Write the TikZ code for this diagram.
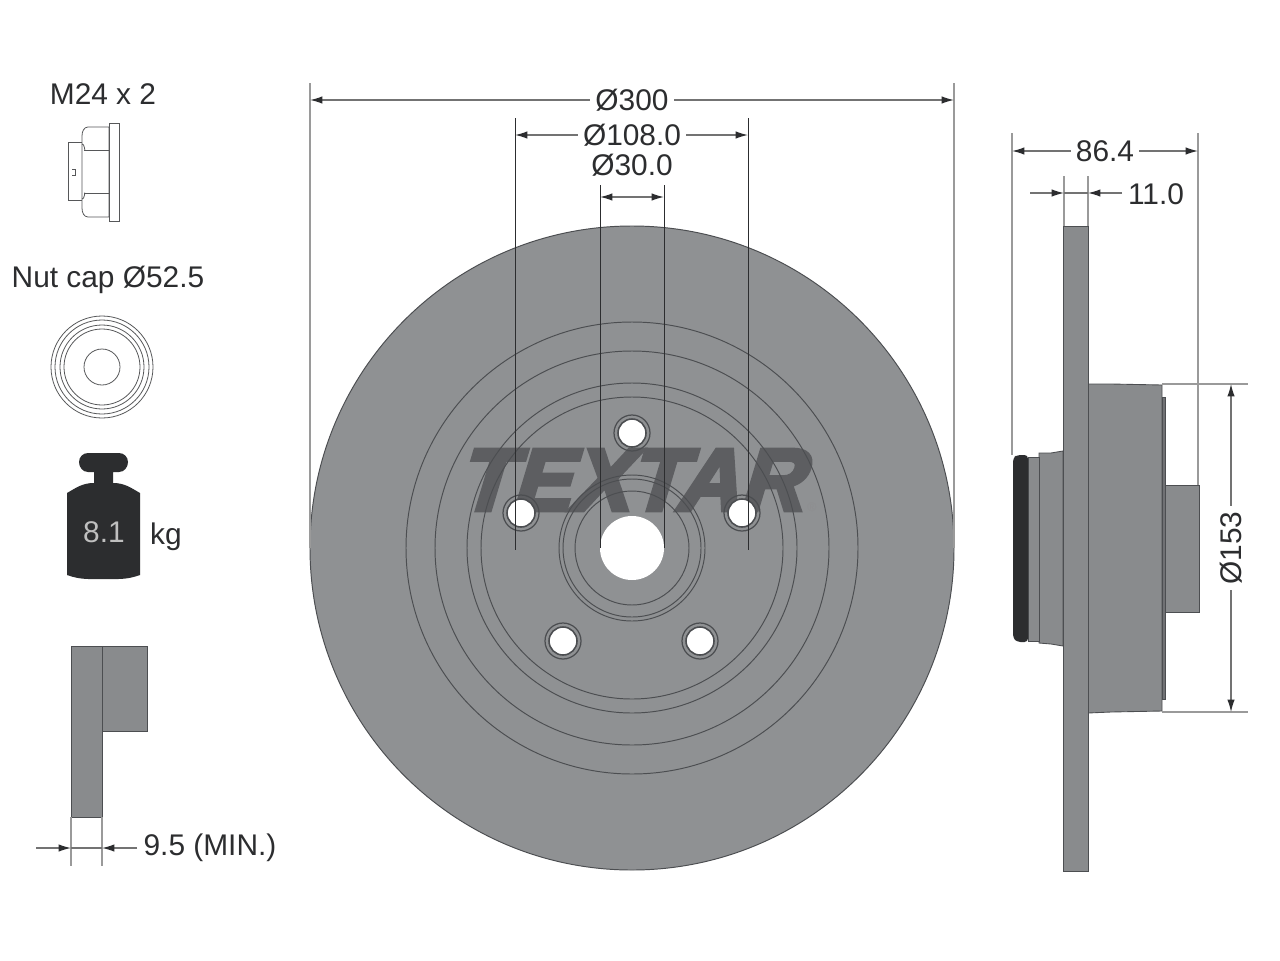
\documentclass[tikz,border=0pt]{standalone}
\usepackage{fontspec}
\setmainfont{Liberation Sans}
\usetikzlibrary{arrows.meta}
\font\logofont="Liberation Sans/B:embolden=5:slant=0.3" at 50pt
\definecolor{discgray}{HTML}{8F9193}
\definecolor{sidegray}{HTML}{898B8D}
\definecolor{edgegray}{HTML}{4C4E51}
\definecolor{inkgray}{HTML}{2C2D2F}
\definecolor{extgray}{HTML}{9A9A9A}
\definecolor{logogray}{HTML}{5D5E61}
\tikzset{
	dimtext/.style={font=\fontsize{17}{18}\selectfont,text=inkgray,inner sep=1pt},
	dimfill/.style={dimtext,fill=white,inner xsep=3pt,inner ysep=0pt},
	dimline/.style={draw=black!55,line width=0.7pt,-{Latex[length=7pt,width=4.2pt,inkgray]}},
	extline/.style={draw=extgray,line width=0.8pt},
	crossline/.style={draw=inkgray,line width=0.42pt},
	partline/.style={draw=edgegray,line width=0.55pt},
	sidepart/.style={fill=sidegray,draw=edgegray,line width=0.5pt},
	iconline/.style={draw=inkgray!80,line width=0.45pt,fill=white}
}
\begin{document}
\begin{tikzpicture}[x=0.02cm,y=-0.02cm]
	\fill[white] (0,0) rectangle (1280,960);

	% labels on the left
	\node[dimtext] (threadtext) at (103,94) {M24 x 2};
	\node[dimtext] (captext) at (108,280) {Nut cap Ø52.5};

	% draw nut
	\draw[iconline] (68,142) rectangle (82,200);
	\draw[iconline] (109,127) -- (88,127) to[out=180,in=90] (82,136) -- (82,208) to[out=-90,in=180] (88,217) -- (109,217) -- cycle;
	\draw[iconline] (84,150) -- (109,150);
	\draw[iconline] (84,193) -- (109,193);
	\draw[iconline,fill=none] (82,144) to[out=20,in=-90] (85,150);
	\draw[iconline,fill=none] (82,199) to[out=-20,in=90] (85,193);
	\draw[iconline] (109,123) rectangle (119,221);
	\draw[iconline,fill=none] (72,169) -- (75,169) -- (75,175) -- (72,175);

	% draw nut cap
	\foreach \r in {51,47,42,38,18}
	{
		\draw[iconline,fill=none] (102,367) circle (\r);
	}

	% draw weight
	\fill[inkgray] (79,462) to[out=90,in=180] (88,453) -- (119,453) to[out=0,in=90] (128,462) to[out=-90,in=0] (119,472) -- (113,472) -- (113,483)
		to[out=0,in=150] (140,493) -- (140,575) to[out=200,in=0] (104,579) to[out=180,in=-20] (67,575) -- (67,493) to[out=30,in=180] (94,483) -- (94,472) -- (88,472) to[out=180,in=-90] cycle;
	\node[font=\fontsize{17}{18}\selectfont,text=black!25] (weighttext) at (104,532) {8.1};
	\node[dimtext] (kgtext) at (166,537) {kg};

	% draw pad profile
	\draw[sidepart] (102,646) rectangle (147,731);
	\draw[sidepart] (71,646) rectangle (102,817);
	\coordinate (padl) at (71,817);
	\coordinate (padr) at (102,817);
	\draw[extline] (padl) -- (71,866);
	\draw[extline] (padr) -- (102,866);
	\coordinate (padla) at (36,848);
	\coordinate (padlb) at (71,848);
	\coordinate (padra) at (137,848);
	\coordinate (padrb) at (102,848);
	\draw[dimline] (padla) -- (padlb);
	\draw[dimline] (padra) -- (padrb);
	\draw[dimline,-] (padlb) -- (padrb);
	\node[dimtext] (padtext) at (210,848) {9.5 (MIN.)};

	% draw disc
	\fill[discgray] (632,548) circle (322);
	\draw[partline] (632,548) circle (322);

	% draw logo
	\node[text=logogray,font=\logofont,inner sep=0pt] (logo) at (629,480) {TEXTAR};
	\node[text=logogray!70,font=\fontsize{7}{8}\selectfont,inner sep=0pt] (logoreg) at (812,507) {®};

	\foreach \r in {226,197,165,151,73,69,57}
	{
		\draw[partline] (632,548) circle (\r);
	}

	% draw holes
	\fill[white] (632,548) circle (32);
	\foreach \x/\y in {632/433,521/513,742/513,563/641,700/641}
	{
		\draw[partline,line width=0.7pt] (\x,\y) circle (18);
		\draw[partline,line width=0.9pt,fill=white] (\x,\y) circle (14);
	}

	% draw disc dimensions
	\coordinate (d300l) at (310,100);
	\coordinate (d300r) at (954,100);
	\draw[extline] (310,83) -- (310,548);
	\draw[extline] (954,83) -- (954,548);
	\draw[dimline] (632,100) -- (d300l);
	\draw[dimline] (632,100) -- (d300r);
	\node[dimfill] (d300text) at (632,100) {Ø300};

	\coordinate (d108l) at (515,135);
	\coordinate (d108r) at (748,135);
	\draw[crossline] (515,118) -- (515,550);
	\draw[crossline] (748,118) -- (748,550);
	\draw[dimline] (632,135) -- (d108l);
	\draw[dimline] (632,135) -- (d108r);
	\node[dimfill] (d108text) at (632,135) {Ø108.0};

	\coordinate (d30l) at (600,197);
	\coordinate (d30r) at (664,197);
	\draw[crossline] (600,185) -- (600,548);
	\draw[crossline] (664,185) -- (664,548);
	\draw[dimline] (632,197) -- (d30l);
	\draw[dimline] (632,197) -- (d30r);
	\node[dimtext] (d30text) at (632,165) {Ø30.0};

	% draw side view
	\draw[sidepart] (1088,384) -- (1111,384) -- (1162,385) -- (1162,711) -- (1111,712) -- (1088,713) -- cycle;
	\draw[sidepart,fill=edgegray!80] (1162,397) rectangle (1165,699);
	\draw[sidepart] (1165,485) rectangle (1199,612);
	\draw[sidepart] (1039,453) -- (1051,453) -- (1063,451) -- (1063,646) -- (1051,644) -- (1039,643) -- cycle;
	\draw[sidepart] (1028,457) rectangle (1039,641);
	\fill[inkgray,rounded corners=2pt] (1013,458) -- (1017,455) -- (1028,455) -- (1028,642) -- (1017,642) -- (1013,638) -- cycle;
	\draw[sidepart] (1063.5,226) rectangle (1088.5,871);

	% draw side dimensions
	\coordinate (d86l) at (1012,151);
	\coordinate (d86r) at (1198,151);
	\draw[extline] (1012,133) -- (1012,455);
	\draw[extline] (1198,133) -- (1198,485);
	\draw[dimline] (1105,151) -- (d86l);
	\draw[dimline] (1105,151) -- (d86r);
	\node[dimfill] (d86text) at (1105,151) {86.4};

	\coordinate (d11la) at (1030,193);
	\coordinate (d11lb) at (1064,193);
	\coordinate (d11ra) at (1122,193);
	\coordinate (d11rb) at (1088,193);
	\draw[extline] (1064,176) -- (1064,226);
	\draw[extline] (1088,176) -- (1088,226);
	\draw[dimline] (d11la) -- (d11lb);
	\draw[dimline] (d11ra) -- (d11rb);
	\draw[dimline,-] (d11lb) -- (d11rb);
	\node[dimtext] (d11text) at (1156,194) {11.0};

	\coordinate (d153t) at (1231,384);
	\coordinate (d153b) at (1231,712);
	\draw[extline] (1162,384) -- (1248,384);
	\draw[extline] (1162,712) -- (1248,712);
	\draw[dimline] (1231,548) -- (d153t);
	\draw[dimline] (1231,548) -- (d153b);
	\node[dimfill,rotate=90] (d153text) at (1231,548) {Ø153};
\end{tikzpicture}
\end{document}
